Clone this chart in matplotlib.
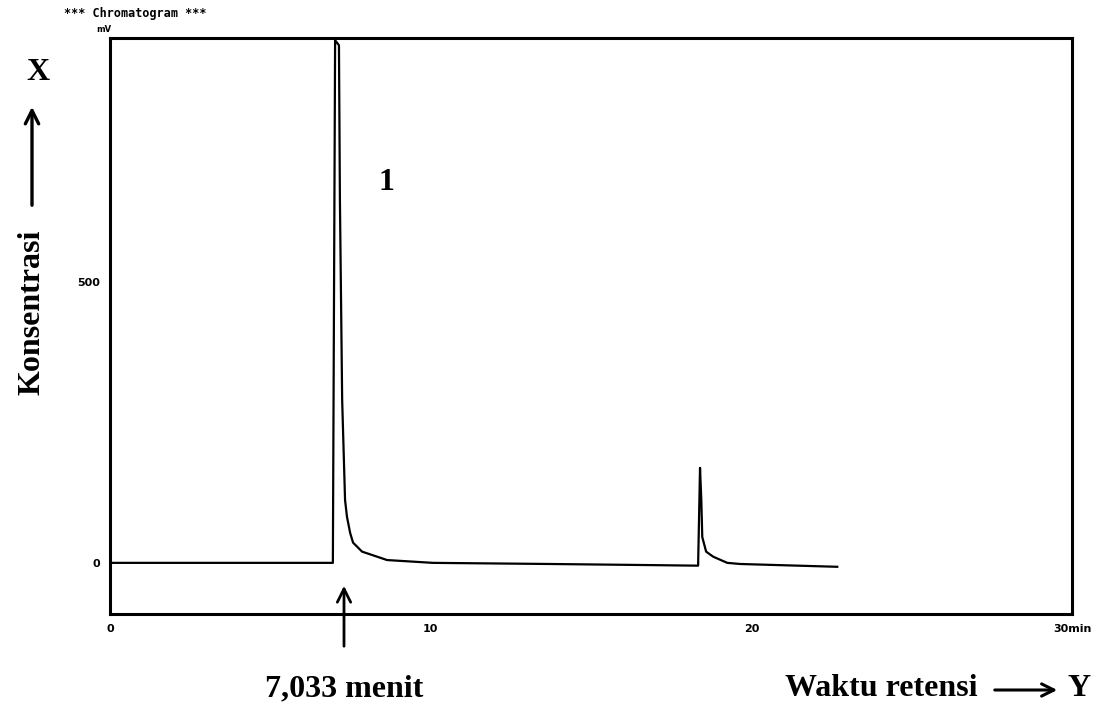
import matplotlib.pyplot as plt

# Chromatogram trace (time in min, signal in mV)
time = [0.0, 6.95, 7.02, 7.14, 7.17, 7.24, 7.33, 7.39, 7.49, 7.58, 7.86,
        8.33, 8.64, 10.07, 13.7, 16.9, 18.34, 18.40, 18.44, 18.47, 18.59,
        18.81, 19.25, 19.65, 22.68]
signal = [0, 0, 930, 921, 646, 290, 112, 82, 53, 36, 20,
          11, 5, 0, -2, -4, -5, 169, 112, 46, 20,
          11, 0, -2, -7]

x_ticks = [0, 10, 20, 30]
x_ticklabels = ['0', '10', '20', '30min']
y_ticks = [0, 500]
y_ticklabels = ['0', '500']

W, H = 1094, 713
fig = plt.figure(figsize=(W / 100, H / 100), dpi=100)
ax = fig.add_axes([110 / W, 1 - 614 / H, 962 / W, 576 / H])

ax.plot(time, signal, color='k', lw=1.6)
ax.set_xlim(0, 30)
ax.set_ylim(-91, 934)
ax.set_xticks(x_ticks)
ax.set_xticklabels(x_ticklabels, fontsize=8, fontweight='bold')
ax.set_yticks(y_ticks)
ax.set_yticklabels(y_ticklabels, fontsize=8, fontweight='bold')
ax.tick_params(length=0, pad=7)
for s in ax.spines.values():
    s.set_linewidth(2.2)

serif = dict(family='Liberation Serif', fontweight='bold', color='k')

def fx(px):
    return px / W

def fy(py):
    return 1 - py / H

# header of the printout
fig.text(fx(135), fy(13), '*** Chromatogram ***', fontsize=8.5, fontweight='bold',
         ha='center', va='center', family='DejaVu Sans Mono')
fig.text(fx(104), fy(29), 'mV', fontsize=6, fontweight='bold', ha='center', va='center')

# peak number
fig.text(fx(386), fy(183), '1', fontsize=23, ha='center', va='center', **serif)

# y axis annotation
fig.text(fx(38), fy(73), 'X', fontsize=23, ha='center', va='center', **serif)
ax.annotate('', xy=(fx(32), fy(104)), xytext=(fx(32), fy(208)),
            xycoords='figure fraction', textcoords='figure fraction',
            arrowprops=dict(arrowstyle='->', lw=2.4, color='k', mutation_scale=24))
fig.text(fx(32), fy(312), 'Konsentrasi', fontsize=23, rotation=90,
         ha='center', va='center', **serif)

# retention time marker
ax.annotate('', xy=(fx(344), fy(583)), xytext=(fx(344), fy(649)),
            xycoords='figure fraction', textcoords='figure fraction',
            arrowprops=dict(arrowstyle='->', lw=2.0, color='k', mutation_scale=24))
fig.text(fx(344), fy(689), '7,033 menit', fontsize=23, ha='center', va='center', **serif)

# x axis annotation
fig.text(fx(881), fy(688), 'Waktu retensi', fontsize=23, ha='center', va='center', **serif)
ax.annotate('', xy=(fx(1060), fy(690)), xytext=(fx(992), fy(690)),
            xycoords='figure fraction', textcoords='figure fraction',
            arrowprops=dict(arrowstyle='->', lw=2.2, color='k', mutation_scale=22))
fig.text(fx(1079), fy(688), 'Y', fontsize=23, ha='center', va='center', **serif)

fig.savefig('out.png', dpi=100)
